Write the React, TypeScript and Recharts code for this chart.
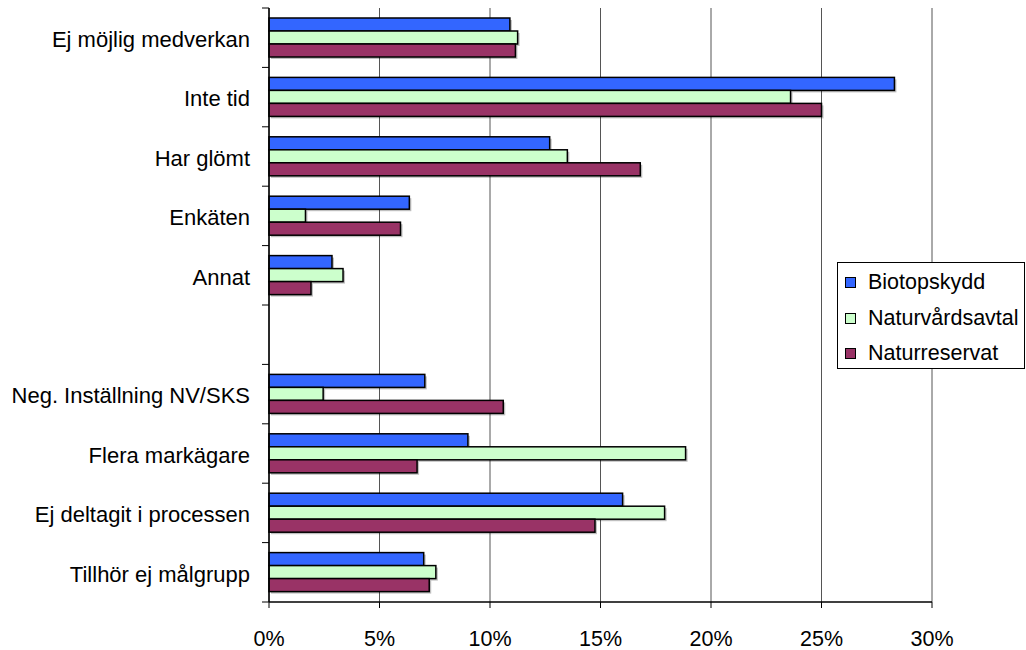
import React from 'react';
import { BarChart, Bar, XAxis, YAxis, CartesianGrid, Legend } from 'recharts';

const categories = [
  'Ej möjlig medverkan',
  'Inte tid',
  'Har glömt',
  'Enkäten',
  'Annat',
  '',
  'Neg. Inställning NV/SKS',
  'Flera markägare',
  'Ej deltagit i processen',
  'Tillhör ej målgrupp',
];
const biotopskydd = [10.9, 28.3, 12.7, 6.35, 2.85, null, 7.05, 9.0, 16.0, 7.0];
const naturvardsavtal = [11.25, 23.6, 13.5, 1.65, 3.35, null, 2.45, 18.85, 17.9, 7.55];
const naturreservat = [11.15, 25.0, 16.8, 5.95, 1.9, null, 10.6, 6.7, 14.75, 7.25];
const xTicks = [0, 5, 10, 15, 20, 25, 30];

const series = [
  { key: 'biotopskydd', name: 'Biotopskydd', color: '#3366FF' },
  { key: 'naturvardsavtal', name: 'Naturvårdsavtal', color: '#CCFFCC' },
  { key: 'naturreservat', name: 'Naturreservat', color: '#993366' },
];

const data = categories.map((name, i) => ({
  name,
  biotopskydd: biotopskydd[i],
  naturvardsavtal: naturvardsavtal[i],
  naturreservat: naturreservat[i],
}));

const W = 1026;
const H = 650;
const MARGIN = { top: 8, right: 94, bottom: 8, left: 0 };
const Y_AXIS_W = 269;
const X_AXIS_H = 40;
const PLOT_H = H - MARGIN.top - MARGIN.bottom - X_AXIS_H;
const BAND = PLOT_H / categories.length;
const FONT = '"Liberation Sans", Arial, sans-serif';

// category label + tick marks on band boundaries (Excel style)
const CategoryTick = (props: any) => {
  const { x, y, payload, index } = props;
  const last = index === categories.length - 1;
  return (
    <g>
      <line x1={x - 7} x2={x} y1={y - BAND / 2} y2={y - BAND / 2} stroke="#000" />
      {last && <line x1={x - 7} x2={x} y1={y + BAND / 2} y2={y + BAND / 2} stroke="#000" />}
      <text x={x - 19} y={y} dy="0.42em" textAnchor="end" fill="#000" fontSize={22} fontFamily={FONT}>
        {payload.value}
      </text>
    </g>
  );
};

// bar with black outline and a soft grey drop shadow
const ShadowBar = (props: any) => {
  const { x, y, width, height, fill } = props;
  if (!width || width <= 0) return null;
  return (
    <g>
      <rect x={x + 2} y={y + 2} width={width} height={height} fill="#000" opacity={0.25} />
      <rect x={x} y={y} width={width} height={height} fill={fill} stroke="#000" strokeWidth={1.5} />
    </g>
  );
};

const LegendBox = () => (
  <div
    style={{
      width: 188,
      height: 107,
      border: '1px solid #000',
      background: '#fff',
      fontFamily: FONT,
      fontSize: 21.5,
      color: '#000',
      boxSizing: 'border-box',
      paddingTop: 2,
    }}
  >
    {series.map((s) => (
      <div key={s.key} style={{ display: 'flex', alignItems: 'center', height: 35.5, paddingLeft: 7 }}>
        <div style={{ width: 9, height: 9, background: s.color, border: '1px solid #000', marginRight: 12 }} />
        <span>{s.name}</span>
      </div>
    ))}
  </div>
);

export default function App() {
  return (
    <div style={{ position: 'absolute', left: 0, top: 0, background: '#fff' }}>
      <BarChart
        width={W}
        height={H}
        data={data}
        layout="vertical"
        margin={MARGIN}
        barGap={0}
        barSize={13}
      >
        <CartesianGrid horizontal={false} vertical stroke="#555" />
        <XAxis
          type="number"
          domain={[0, 30]}
          ticks={xTicks}
          interval={0}
          tickFormatter={(v) => `${v}%`}
          height={X_AXIS_H}
          axisLine={{ stroke: '#000', strokeWidth: 1.5 }}
          tickLine={{ stroke: '#000' }}
          tickSize={6}
          tickMargin={23}
          tick={{ fill: '#000', fontSize: 21.5, fontFamily: FONT }}
        />
        <XAxis
          xAxisId="top"
          orientation="top"
          type="number"
          domain={[0, 30]}
          height={0}
          tick={false}
          tickLine={false}
          axisLine={{ stroke: '#888' }}
        />
        <YAxis
          type="category"
          dataKey="name"
          width={Y_AXIS_W}
          interval={0}
          tickSize={0}
          tickMargin={0}
          tickLine={false}
          axisLine={{ stroke: '#000', strokeWidth: 1.5 }}
          tick={<CategoryTick />}
        />
        <Legend
          layout="vertical"
          align="center"
          verticalAlign="middle"
          wrapperStyle={{ left: 837, top: 262, width: 188 }}
          content={() => <LegendBox />}
        />
        {series.map((s) => (
          <Bar
            key={s.key}
            dataKey={s.key}
            name={s.name}
            fill={s.color}
            shape={<ShadowBar />}
            isAnimationActive={false}
          />
        ))}
      </BarChart>
    </div>
  );
}
